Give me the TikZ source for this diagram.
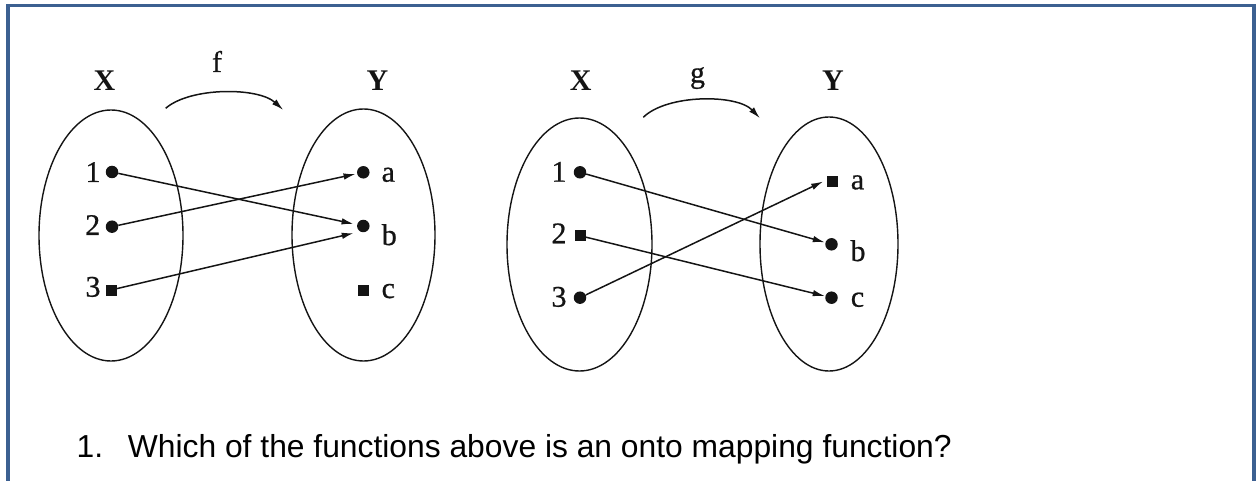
\documentclass[tikz,border=0pt]{standalone}
\usepackage{fontspec}
\setmainfont{Liberation Serif}
\newfontfamily\lblfont{Liberation Serif}[FakeBold=0.7]
\newfontfamily\qfont{Liberation Sans}
\usetikzlibrary{arrows.meta}
\definecolor{frameblue}{RGB}{60,96,145}
\definecolor{ink}{RGB}{20,20,20}
\begin{document}
\begin{tikzpicture}[x=1pt,y=-1pt,
  lbl/.style={inner sep=0pt,anchor=base,font=\lblfont\fontsize{30}{34}\selectfont,text=ink},
  setlbl/.style={inner sep=0pt,anchor=base,font=\bfseries\fontsize{30}{34}\selectfont,text=ink},
  dotpt/.style={circle,fill=ink,inner sep=0pt,minimum size=12.5pt},
  sqpt/.style={rectangle,fill=ink,inner sep=0pt,minimum size=11pt},
  arr/.style={draw=ink,line width=1.5pt,-{Latex[length=12pt,width=6.5pt]}},
  setline/.style={draw=ink,line width=1.4pt}]
\useasboundingbox (0,0) rectangle (1256,481);
% frame
\draw[frameblue,line width=3.8pt] (8,484) -- (8,5.6) -- (1254,5.6) -- (1254,484);
% ---------- f ----------
\draw[setline] (111,235.5) ellipse [x radius=72, y radius=125.5];
\draw[setline] (363.5,235) ellipse [x radius=71.5, y radius=126];
\node[setlbl] (lx1) at (104.5,90.7) {X};
\node[setlbl] (ly1) at (377.5,90.7) {Y};
\node[lbl] (lf) at (217,72) {f};
\coordinate (fs) at (165.7,108.3);
\coordinate (fe) at (283.3,110);
\draw[arr] (fs) .. controls (190,87) and (258,87) .. (fe);
\node[dotpt] (x1) at (112,172) {};
\node[dotpt] (x2) at (112,226.7) {};
\node[sqpt]  (x3) at (111,290) {};
\node[dotpt] (ya) at (363.3,172.3) {};
\node[dotpt] (yb) at (363.3,226) {};
\node[sqpt]  (yc) at (363.3,290) {};
\node[lbl] (t1) at (93,182) {1};
\node[lbl] (t2) at (92.7,235) {2};
\node[lbl] (t3) at (93,296.7) {3};
\node[lbl] (ta) at (388.3,181.7) {a};
\node[lbl] (tb) at (389.3,245) {b};
\node[lbl] (tc) at (388.3,298) {c};
\draw[arr,shorten >=3.5pt] (x1) -- (yb);
\draw[arr,shorten >=1.5pt] (x2) -- (ya);
\draw[arr,shorten >=6.5pt] (x3) -- (yb.240);
% ---------- g ----------
\draw[setline] (579.5,244.5) ellipse [x radius=72.5, y radius=126.5];
\draw[setline] (829,244) ellipse [x radius=69, y radius=127];
\node[setlbl] (lx2) at (580.8,90.7) {X};
\node[setlbl] (ly2) at (833,90.7) {Y};
\node[lbl] (lg) at (697.5,82.5) {g};
\coordinate (gs) at (643.3,117.3);
\coordinate (ge) at (760,118.3);
\draw[arr] (gs) .. controls (667,94) and (737,94) .. (ge);
\node[dotpt] (u1) at (580,172.3) {};
\node[sqpt]  (u2) at (580,235.7) {};
\node[dotpt] (u3) at (580,297.7) {};
\node[sqpt]  (va) at (832.5,181.3) {};
\node[dotpt] (vb) at (831.5,244.3) {};
\node[dotpt] (vc) at (831.5,297.7) {};
\node[lbl] (s1) at (559,181.7) {1};
\node[lbl] (s2) at (559,243.3) {2};
\node[lbl] (s3) at (559,306.7) {3};
\node[lbl] (sa) at (857.5,189.3) {a};
\node[lbl] (sb) at (858,261) {b};
\node[lbl] (sc) at (857.5,306.7) {c};
\draw[arr,shorten >=0.5pt] (u1) -- (vb);
\draw[arr,shorten >=0.5pt] (u2) -- (vc);
\draw[arr,shorten >=4pt] (u3) -- (va.165);
% ---------- question ----------
\node[inner sep=0pt,anchor=base west,font=\qfont\fontsize{31.8}{38}\selectfont] (qn) at (76.5,457) {1.};
\node[inner sep=0pt,anchor=base west,font=\qfont\fontsize{31.8}{38}\selectfont] (qt) at (127.7,457) {Which of the functions above is an onto mapping function?};
\end{tikzpicture}
\end{document}
